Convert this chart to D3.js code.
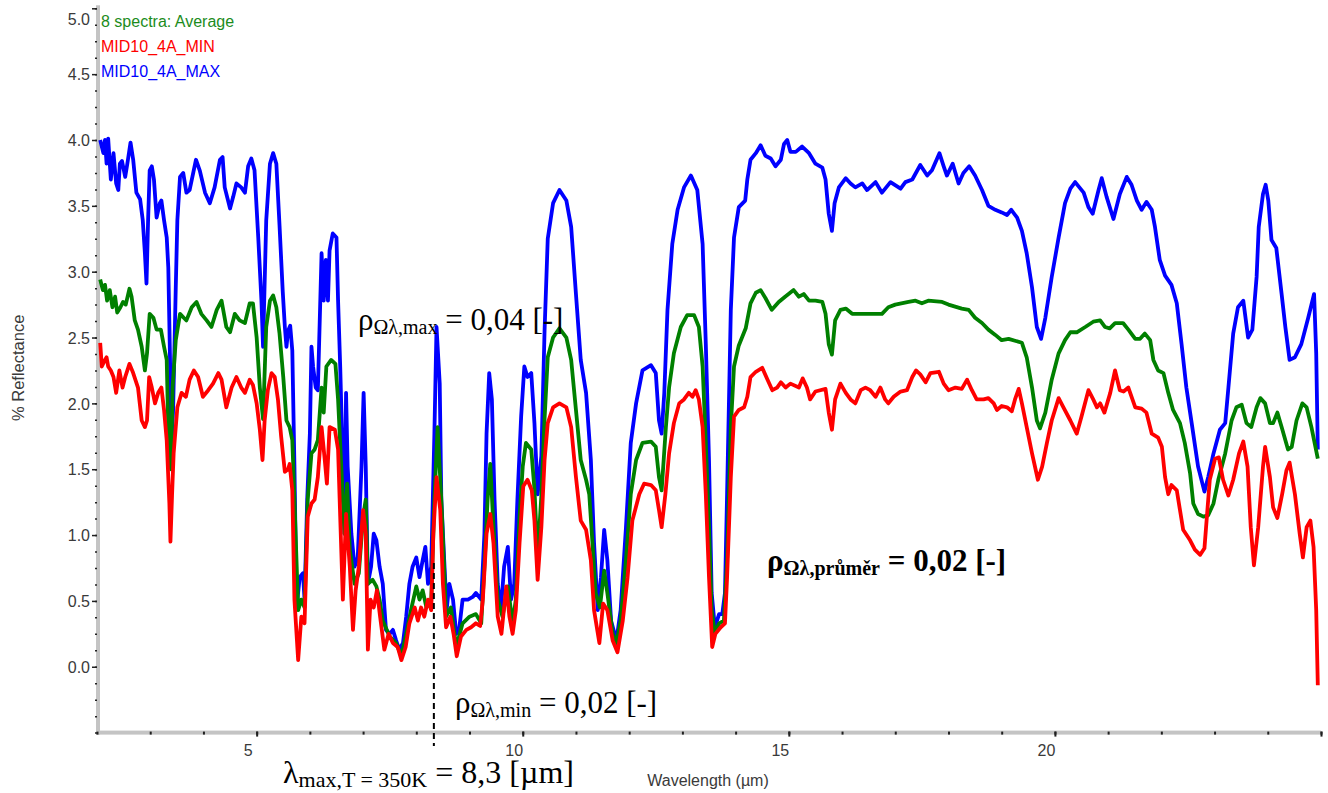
<!DOCTYPE html>
<html><head><meta charset="utf-8">
<script src="https://cdn.jsdelivr.net/npm/d3@7"></script>
<style>
html,body{margin:0;padding:0;background:#fff;}
svg{display:block;}
</style></head>
<body>
<svg id="chart" width="1328" height="793"></svg>
<script>
// ---- data (wavelength µm, % reflectance) ----
const seriesNames = ["8 spectra: Average", "MID10_4A_MIN", "MID10_4A_MAX"];
const seriesColors = ["#008000", "#ff0000", "#0000ff"];
const yTickLabels = [0.0,0.5,1.0,1.5,2.0,2.5,3.0,3.5,4.0,4.5,5.0];
const xTickLabels = [5,10,15,20];
const lambdaMarker = 8.33;

const maxSeries = [
[2.06,4.00],[2.12,3.90],[2.15,4.00],[2.18,3.82],[2.21,4.01],[2.26,3.70],[2.31,3.90],[2.36,3.67],[2.40,3.62],[2.43,3.82],
[2.47,3.84],[2.53,3.72],[2.57,3.82],[2.63,3.98],[2.68,3.85],[2.74,3.60],[2.81,3.55],[2.86,3.39],[2.90,3.14],[2.93,2.91],
[2.96,3.39],[2.99,3.77],[3.03,3.80],[3.07,3.70],[3.12,3.41],[3.18,3.52],[3.21,3.54],[3.26,3.39],[3.31,3.26],[3.34,3.03],
[3.37,2.38],[3.40,1.67],[3.43,1.95],[3.48,2.88],[3.51,3.39],[3.56,3.72],[3.62,3.75],[3.68,3.60],[3.74,3.62],[3.86,3.85],
[3.93,3.77],[4.03,3.60],[4.12,3.52],[4.21,3.64],[4.31,3.85],[4.36,3.87],[4.40,3.64],[4.50,3.48],[4.56,3.57],[4.62,3.67],
[4.71,3.64],[4.78,3.60],[4.84,3.80],[4.90,3.86],[4.96,3.77],[5.03,3.26],[5.09,2.78],[5.12,2.43],[5.18,3.39],[5.25,3.82],
[5.31,3.90],[5.37,3.82],[5.43,3.35],[5.49,2.85],[5.53,2.58],[5.56,2.43],[5.59,2.55],[5.63,2.59],[5.67,2.40],[5.71,1.52],
[5.75,0.45],[5.81,0.68],[5.87,0.71],[5.90,0.51],[5.95,1.27],[6.00,1.77],[6.03,2.43],[6.06,2.28],[6.11,2.12],[6.15,2.10],
[6.22,3.14],[6.26,2.78],[6.30,3.09],[6.34,2.78],[6.37,3.16],[6.43,3.29],[6.50,3.26],[6.53,2.78],[6.57,2.28],[6.62,1.52],
[6.65,1.01],[6.68,2.08],[6.71,1.52],[6.78,1.01],[6.84,0.76],[6.90,0.83],[6.97,1.52],[7.01,2.08],[7.05,1.52],[7.09,0.63],
[7.15,0.76],[7.20,1.01],[7.25,0.96],[7.31,0.76],[7.37,0.63],[7.43,0.28],[7.50,0.25],[7.56,0.28],[7.62,0.20],[7.68,0.13],
[7.75,0.18],[7.81,0.38],[7.87,0.63],[7.93,0.76],[8.00,0.83],[8.06,0.68],[8.12,0.81],[8.17,0.91],[8.22,0.63],[8.28,0.76],
[8.34,1.77],[8.38,2.58],[8.44,2.15],[8.47,1.27],[8.53,0.76],[8.57,0.43],[8.62,0.63],[8.69,0.51],[8.75,0.25],[8.81,0.30],
[8.87,0.51],[8.97,0.51],[9.06,0.53],[9.12,0.56],[9.22,0.51],[9.28,1.01],[9.32,1.77],[9.37,2.23],[9.42,2.03],[9.47,1.27],
[9.53,0.63],[9.59,0.43],[9.65,0.76],[9.72,0.91],[9.78,0.51],[9.84,0.63],[9.90,1.27],[9.97,1.90],[10.03,2.28],[10.09,2.20],
[10.16,2.23],[10.22,1.85],[10.28,1.31],[10.35,1.60],[10.41,2.55],[10.47,3.25],[10.57,3.52],[10.69,3.62],[10.82,3.54],[10.91,3.34],
[11.00,2.83],[11.09,2.33],[11.19,2.08],[11.28,1.57],[11.34,0.94],[11.41,0.43],[11.47,0.68],[11.53,1.04],[11.59,0.81],[11.66,0.35],
[11.76,0.20],[11.84,0.43],[11.94,1.06],[12.03,1.70],[12.13,2.00],[12.25,2.25],[12.41,2.29],[12.50,2.23],[12.56,1.87],[12.61,1.77],
[12.66,2.08],[12.72,2.71],[12.81,3.21],[12.91,3.47],[13.03,3.64],[13.16,3.73],[13.28,3.62],[13.38,3.21],[13.44,2.45],[13.50,1.57],
[13.55,0.56],[13.61,0.30],[13.69,0.40],[13.75,0.40],[13.80,0.56],[13.84,1.31],[13.91,2.71],[13.97,3.26],[14.06,3.49],[14.18,3.54],
[14.22,3.70],[14.28,3.85],[14.38,3.90],[14.47,3.96],[14.56,3.88],[14.66,3.86],[14.75,3.80],[14.85,3.85],[14.91,3.97],[14.97,4.00],
[15.03,3.91],[15.13,3.91],[15.25,3.95],[15.38,3.90],[15.50,3.82],[15.63,3.79],[15.69,3.70],[15.75,3.44],[15.81,3.31],[15.86,3.52],
[15.94,3.64],[16.07,3.71],[16.16,3.67],[16.25,3.64],[16.38,3.67],[16.47,3.62],[16.63,3.68],[16.75,3.60],[16.91,3.68],[17.10,3.63],
[17.19,3.68],[17.32,3.70],[17.47,3.81],[17.60,3.73],[17.69,3.77],[17.83,3.90],[17.91,3.80],[17.97,3.73],[18.08,3.82],[18.19,3.67],
[18.28,3.75],[18.39,3.80],[18.50,3.73],[18.63,3.62],[18.75,3.50],[18.88,3.47],[19.00,3.45],[19.10,3.43],[19.18,3.47],[19.29,3.41],
[19.38,3.31],[19.47,3.14],[19.57,2.88],[19.66,2.58],[19.74,2.49],[19.82,2.65],[19.94,2.96],[20.07,3.26],[20.19,3.52],[20.29,3.63],
[20.38,3.68],[20.54,3.60],[20.63,3.49],[20.71,3.44],[20.82,3.62],[20.88,3.71],[20.97,3.57],[21.10,3.40],[21.22,3.59],[21.35,3.72],
[21.44,3.66],[21.54,3.54],[21.63,3.47],[21.72,3.53],[21.82,3.47],[21.88,3.34],[21.97,3.09],[22.07,2.97],[22.19,2.90],[22.29,2.76],
[22.38,2.45],[22.47,2.12],[22.57,1.85],[22.69,1.52],[22.81,1.33],[22.88,1.44],[22.98,1.62],[23.10,1.80],[23.20,1.85],[23.26,2.12],
[23.35,2.53],[23.44,2.73],[23.54,2.78],[23.63,2.50],[23.71,2.56],[23.79,2.96],[23.83,3.34],[23.91,3.59],[23.96,3.66],[24.01,3.54],
[24.07,3.24],[24.16,3.18],[24.26,2.83],[24.33,2.58],[24.41,2.33],[24.51,2.35],[24.63,2.45],[24.76,2.65],[24.87,2.83],[24.91,2.38],
[24.94,1.65]
];

const avgSeries = [
[2.06,2.94],[2.11,2.86],[2.15,2.90],[2.19,2.78],[2.24,2.86],[2.29,2.73],[2.34,2.81],[2.38,2.69],[2.44,2.73],[2.49,2.77],
[2.54,2.75],[2.61,2.87],[2.65,2.81],[2.71,2.63],[2.77,2.56],[2.84,2.43],[2.90,2.25],[2.94,2.38],[2.99,2.68],[3.06,2.65],
[3.12,2.56],[3.20,2.56],[3.26,2.43],[3.31,2.33],[3.35,1.62],[3.39,1.50],[3.42,2.12],[3.48,2.48],[3.56,2.68],[3.63,2.65],
[3.68,2.63],[3.78,2.73],[3.87,2.77],[3.96,2.68],[4.06,2.63],[4.15,2.58],[4.25,2.71],[4.34,2.78],[4.43,2.58],[4.50,2.54],
[4.59,2.68],[4.68,2.63],[4.78,2.61],[4.87,2.76],[4.93,2.76],[5.00,2.50],[5.06,2.12],[5.12,1.88],[5.18,2.58],[5.25,2.78],
[5.31,2.82],[5.37,2.73],[5.43,2.53],[5.50,2.20],[5.56,1.87],[5.62,1.82],[5.67,1.72],[5.71,1.27],[5.78,0.43],[5.84,0.51],
[5.90,0.45],[5.96,1.27],[6.03,1.62],[6.09,1.65],[6.15,1.72],[6.22,2.12],[6.26,1.93],[6.31,2.28],[6.40,2.33],[6.48,2.30],
[6.53,2.03],[6.59,1.52],[6.65,1.01],[6.70,1.39],[6.75,0.89],[6.84,0.63],[6.92,0.71],[7.00,1.14],[7.05,1.27],[7.09,0.63],
[7.18,0.66],[7.25,0.61],[7.31,0.51],[7.37,0.35],[7.50,0.23],[7.62,0.18],[7.72,0.08],[7.81,0.25],[7.90,0.43],[8.00,0.61],
[8.06,0.51],[8.12,0.58],[8.19,0.45],[8.28,0.50],[8.34,1.27],[8.40,1.82],[8.47,1.27],[8.56,0.38],[8.65,0.45],[8.75,0.15],
[8.87,0.33],[9.00,0.38],[9.12,0.40],[9.22,0.33],[9.28,0.76],[9.34,1.27],[9.39,1.54],[9.44,1.14],[9.53,0.51],[9.62,0.38],
[9.72,0.61],[9.81,0.33],[9.87,0.51],[9.94,1.14],[10.00,1.52],[10.06,1.70],[10.16,1.65],[10.22,1.35],[10.28,0.83],[10.35,1.30],
[10.41,1.88],[10.47,2.35],[10.57,2.50],[10.69,2.57],[10.82,2.50],[10.91,2.33],[11.00,1.95],[11.09,1.57],[11.19,1.42],[11.25,1.31],
[11.31,0.94],[11.37,0.56],[11.45,0.45],[11.53,0.73],[11.59,0.56],[11.69,0.25],[11.76,0.18],[11.84,0.35],[11.94,0.81],[12.03,1.31],
[12.13,1.57],[12.25,1.70],[12.41,1.71],[12.50,1.67],[12.56,1.44],[12.61,1.34],[12.69,1.82],[12.75,2.12],[12.84,2.38],[12.97,2.58],
[13.09,2.67],[13.22,2.67],[13.31,2.58],[13.38,2.28],[13.44,1.70],[13.50,1.06],[13.55,0.43],[13.61,0.25],[13.69,0.33],[13.78,0.35],
[13.84,0.81],[13.91,1.82],[13.97,2.28],[14.06,2.44],[14.19,2.57],[14.28,2.76],[14.38,2.84],[14.47,2.86],[14.56,2.80],[14.68,2.71],
[14.81,2.77],[14.93,2.81],[15.09,2.86],[15.19,2.81],[15.28,2.83],[15.38,2.78],[15.50,2.78],[15.63,2.77],[15.69,2.68],[15.75,2.45],
[15.81,2.37],[15.87,2.63],[15.97,2.71],[16.07,2.72],[16.19,2.68],[16.44,2.68],[16.75,2.68],[16.87,2.73],[17.00,2.75],[17.25,2.77],
[17.38,2.78],[17.50,2.76],[17.62,2.78],[17.88,2.77],[18.00,2.75],[18.25,2.72],[18.38,2.71],[18.50,2.65],[18.63,2.61],[18.75,2.56],
[18.88,2.52],[19.00,2.48],[19.13,2.49],[19.38,2.46],[19.47,2.35],[19.57,2.12],[19.66,1.87],[19.72,1.81],[19.82,1.93],[19.94,2.18],
[20.07,2.38],[20.19,2.48],[20.29,2.54],[20.41,2.54],[20.57,2.58],[20.72,2.62],[20.85,2.63],[20.94,2.58],[21.03,2.57],[21.13,2.61],
[21.28,2.61],[21.38,2.56],[21.51,2.49],[21.60,2.49],[21.69,2.53],[21.79,2.48],[21.85,2.33],[21.94,2.25],[22.04,2.23],[22.13,2.08],
[22.22,1.95],[22.35,1.85],[22.44,1.70],[22.54,1.47],[22.60,1.24],[22.69,1.16],[22.79,1.14],[22.88,1.15],[22.98,1.24],[23.07,1.42],
[23.20,1.62],[23.32,1.87],[23.41,1.97],[23.51,1.99],[23.60,1.85],[23.69,1.82],[23.79,1.97],[23.86,2.04],[23.95,2.00],[24.04,1.85],
[24.10,1.85],[24.18,1.93],[24.26,1.82],[24.38,1.65],[24.45,1.67],[24.54,1.87],[24.65,2.00],[24.73,1.97],[24.82,1.82],[24.94,1.58]
];

const minSeries = [
[2.06,2.46],[2.09,2.28],[2.15,2.33],[2.18,2.35],[2.21,2.28],[2.26,2.25],[2.31,2.20],[2.36,2.08],[2.42,2.25],[2.48,2.12],
[2.53,2.20],[2.61,2.30],[2.68,2.23],[2.77,2.12],[2.84,1.87],[2.90,1.82],[2.94,1.87],[2.98,2.20],[3.03,2.12],[3.09,2.00],
[3.15,2.08],[3.21,2.12],[3.26,1.95],[3.31,1.72],[3.36,1.24],[3.38,0.95],[3.41,1.30],[3.44,1.62],[3.51,1.97],[3.59,2.08],
[3.67,2.05],[3.74,2.18],[3.82,2.25],[3.90,2.20],[3.99,2.05],[4.09,2.10],[4.18,2.15],[4.28,2.23],[4.34,2.18],[4.43,1.97],
[4.53,2.12],[4.62,2.20],[4.71,2.12],[4.78,2.08],[4.87,2.18],[4.93,2.14],[5.00,2.00],[5.06,1.80],[5.11,1.57],[5.15,1.87],
[5.21,2.10],[5.28,2.23],[5.34,2.20],[5.40,2.03],[5.46,1.75],[5.53,1.48],[5.59,1.50],[5.62,1.54],[5.67,1.34],[5.71,0.51],
[5.78,0.05],[5.84,0.38],[5.90,0.33],[5.96,1.14],[6.03,1.24],[6.09,1.27],[6.15,1.44],[6.22,1.82],[6.28,1.57],[6.32,1.39],
[6.37,1.82],[6.47,1.80],[6.53,1.65],[6.57,1.14],[6.62,0.51],[6.68,1.16],[6.75,0.76],[6.81,0.28],[6.86,0.58],[6.92,0.76],
[7.00,1.19],[7.05,1.01],[7.09,0.13],[7.14,0.51],[7.20,0.45],[7.26,0.58],[7.32,0.38],[7.40,0.13],[7.48,0.25],[7.56,0.18],
[7.65,0.15],[7.72,0.05],[7.80,0.15],[7.87,0.33],[7.97,0.45],[8.03,0.35],[8.09,0.45],[8.15,0.38],[8.22,0.51],[8.28,0.43],
[8.32,1.01],[8.38,1.44],[8.45,1.19],[8.50,0.63],[8.56,0.30],[8.64,0.38],[8.70,0.25],[8.76,0.08],[8.84,0.23],[8.94,0.28],
[9.03,0.30],[9.12,0.33],[9.20,0.31],[9.25,0.51],[9.32,1.01],[9.39,1.16],[9.45,0.94],[9.53,0.38],[9.60,0.25],[9.69,0.61],
[9.75,0.38],[9.81,0.25],[9.87,0.43],[9.94,0.94],[10.01,1.37],[10.09,1.42],[10.17,1.34],[10.22,1.11],[10.28,0.66],[10.35,1.06],
[10.41,1.57],[10.47,1.85],[10.57,1.97],[10.69,2.00],[10.82,1.97],[10.91,1.82],[11.00,1.44],[11.09,1.11],[11.19,1.04],[11.28,0.81],
[11.34,0.43],[11.44,0.18],[11.51,0.48],[11.59,0.43],[11.69,0.20],[11.78,0.11],[11.88,0.35],[11.97,0.68],[12.06,1.11],[12.19,1.31],
[12.28,1.39],[12.41,1.38],[12.50,1.34],[12.56,1.19],[12.61,1.06],[12.68,1.31],[12.75,1.62],[12.84,1.85],[12.94,2.00],[13.03,2.03],
[13.12,2.08],[13.19,2.05],[13.25,2.10],[13.31,2.03],[13.38,1.82],[13.44,1.31],[13.50,0.68],[13.56,0.15],[13.62,0.25],[13.72,0.30],
[13.80,0.33],[13.84,0.68],[13.91,1.44],[13.97,1.90],[14.06,1.95],[14.16,1.97],[14.22,2.05],[14.28,2.20],[14.38,2.24],[14.50,2.27],
[14.60,2.18],[14.69,2.10],[14.78,2.12],[14.85,2.16],[14.94,2.12],[15.03,2.15],[15.19,2.12],[15.26,2.19],[15.34,2.12],[15.40,2.03],
[15.50,2.09],[15.69,2.11],[15.75,1.93],[15.81,1.80],[15.87,2.03],[15.97,2.15],[16.07,2.08],[16.16,2.03],[16.25,2.00],[16.35,2.10],
[16.44,2.12],[16.53,2.10],[16.63,2.05],[16.72,2.12],[16.81,2.03],[16.87,2.00],[16.97,2.05],[17.10,2.09],[17.22,2.10],[17.32,2.20],
[17.39,2.25],[17.47,2.22],[17.57,2.16],[17.66,2.23],[17.82,2.24],[17.91,2.15],[18.00,2.10],[18.13,2.12],[18.25,2.11],[18.35,2.18],
[18.44,2.10],[18.53,2.03],[18.66,2.03],[18.75,2.04],[18.85,2.00],[18.91,1.95],[19.00,1.98],[19.10,1.97],[19.19,1.94],[19.25,2.03],
[19.32,2.11],[19.38,2.00],[19.47,1.82],[19.57,1.62],[19.68,1.42],[19.76,1.52],[19.85,1.70],[19.94,1.87],[20.07,2.04],[20.16,1.97],
[20.29,1.87],[20.41,1.77],[20.50,1.90],[20.63,2.10],[20.72,2.03],[20.79,1.97],[20.85,2.00],[20.93,1.93],[21.04,2.08],[21.13,2.25],
[21.22,2.10],[21.29,2.09],[21.38,2.12],[21.51,1.97],[21.63,1.96],[21.72,1.93],[21.82,1.77],[21.94,1.74],[22.01,1.67],[22.07,1.44],
[22.13,1.31],[22.19,1.38],[22.29,1.34],[22.35,1.19],[22.41,1.04],[22.54,0.96],[22.63,0.89],[22.73,0.85],[22.81,0.90],[22.85,1.11],
[22.91,1.42],[23.01,1.58],[23.08,1.59],[23.16,1.42],[23.26,1.30],[23.35,1.42],[23.46,1.62],[23.54,1.71],[23.62,1.52],[23.68,1.06],
[23.74,0.77],[23.82,1.06],[23.91,1.52],[23.95,1.67],[24.04,1.44],[24.10,1.21],[24.18,1.13],[24.27,1.31],[24.35,1.49],[24.41,1.55],
[24.51,1.31],[24.60,1.01],[24.66,0.83],[24.73,1.06],[24.80,1.11],[24.86,0.91],[24.91,0.43],[24.94,-0.14]
];

// ---- scales ----
const svg = d3.select("#chart");
const x = d3.scaleLinear().domain([2, 25]).range([97, 1321]);
const y = d3.scaleLinear().domain([-0.5, 5.0]).range([732.6, 8.3]);

// axis bars (gray)
svg.append("rect").attr("x", x(2) - 1).attr("y", y(5.0) - 3).attr("width", 4)
   .attr("height", y(-0.5) - y(5.0) + 5).attr("fill", "#c4c4c4");
svg.append("rect").attr("x", x(2) - 1).attr("y", y(-0.5) - 2).attr("width", x(25) - x(2) + 1)
   .attr("height", 4).attr("fill", "#c4c4c4");

// y ticks
const yMinor = d3.range(-0.5, 5.0001, 0.125);
const yAxisMinor = d3.axisLeft(y).tickValues(yMinor).tickSize(2).tickFormat("");
const gyMinor = svg.append("g").attr("transform", `translate(${x(2)},0)`).call(yAxisMinor);
const yAxisMajor = d3.axisLeft(y).tickValues(yTickLabels).tickSize(5).tickPadding(3)
   .tickFormat(d3.format(".1f"));
const gyMajor = svg.append("g").attr("transform", `translate(${x(2)},0)`).call(yAxisMajor);
[gyMinor, gyMajor].forEach(g => {
  g.select(".domain").remove();
  g.selectAll("line").attr("stroke", "#202020").attr("stroke-width", 1.5);
});
gyMajor.selectAll("text")
  .attr("fill", "#3a3a3a").attr("font-family", "'Liberation Sans', Arial, sans-serif").attr("font-size", 16)
  .attr("x", -7)
  .attr("dy", "0.36em")
  .attr("transform", d => d === 5.0 ? "translate(0,10)" : null);

// x ticks
const xMinor = d3.range(2, 25.0001, 1);
const xAxisMinor = d3.axisBottom(x).tickValues(xMinor).tickSize(2).tickFormat("");
const gxMinor = svg.append("g").attr("transform", `translate(0,${y(-0.5)})`).call(xAxisMinor);
const xAxisMajor = d3.axisBottom(x).tickValues(xTickLabels.concat([25])).tickSize(4).tickPadding(8)
   .tickFormat(d => xTickLabels.includes(d) ? d : "");
const gxMajor = svg.append("g").attr("transform", `translate(0,${y(-0.5)})`).call(xAxisMajor);
[gxMinor, gxMajor].forEach(g => {
  g.select(".domain").remove();
  g.selectAll("line").attr("stroke", "#202020").attr("stroke-width", 2).attr("y1", -1);
});
gxMajor.selectAll("text")
  .attr("fill", "#3a3a3a").attr("font-family", "'Liberation Sans', Arial, sans-serif").attr("font-size", 16)
  .attr("dx", -9);

// axis titles
svg.append("text").attr("transform", `translate(24,${y(2.27)}) rotate(-90)`)
  .attr("text-anchor", "middle").attr("fill", "#3a3a3a")
  .attr("font-family", "'Liberation Sans', Arial, sans-serif").attr("font-size", 16.5)
  .text("% Reflectance");
svg.append("text").attr("x", 708).attr("y", 786).attr("text-anchor", "middle")
  .attr("fill", "#3a3a3a").attr("font-family", "'Liberation Sans', Arial, sans-serif").attr("font-size", 16)
  .text("Wavelength (µm)");

// lines
const line = d3.line().x(d => x(d[0])).y(d => y(d[1]));
const drawOrder = [[maxSeries, seriesColors[2]], [avgSeries, seriesColors[0]], [minSeries, seriesColors[1]]];
drawOrder.forEach(([data, col]) => {
  svg.append("path").datum(data).attr("d", line).attr("fill", "none")
    .attr("stroke", col).attr("stroke-width", 3.8).attr("stroke-linejoin", "round");
});

// legend
const legend = svg.append("g").attr("font-family", "'Liberation Sans', Arial, sans-serif").attr("font-size", 16);
seriesNames.forEach((n, i) => {
  legend.append("text").attr("x", 101).attr("y", 27 + i * 25)
    .attr("fill", i === 0 ? "#1c8c1c" : seriesColors[i]).text(n);
});

// dashed marker at λmax
svg.append("line").attr("x1", x(lambdaMarker)).attr("x2", x(lambdaMarker))
  .attr("y1", 563).attr("y2", 746).attr("stroke", "#000").attr("stroke-width", 2)
  .attr("stroke-dasharray", "6,4");

// annotations (Times-like)
const serif = "'Liberation Serif', 'Times New Roman', serif";
function rhoLabel(xp, yp, sub, rest, bold) {
  const t = svg.append("text").attr("x", xp).attr("y", yp).attr("font-family", serif)
    .attr("font-size", 31).attr("fill", "#000").attr("font-weight", bold ? "bold" : "normal");
  t.append("tspan").text("ρ");
  t.append("tspan").attr("font-size", 20).attr("dy", 4).text(sub);
  t.append("tspan").attr("dy", -4).text(rest);
}
rhoLabel(358, 330, "Ωλ,max", " = 0,04 [-]", false);
rhoLabel(455, 713, "Ωλ,min", " = 0,02 [-]", false);
rhoLabel(767, 571, "Ωλ,průměr", " = 0,02 [-]", true);

const lam = svg.append("text").attr("x", 283).attr("y", 783).attr("font-family", serif)
  .attr("font-size", 32).attr("fill", "#000");
lam.append("tspan").text("λ");
lam.append("tspan").attr("font-size", 22).attr("dy", 4).text("max,T = 350K");
lam.append("tspan").attr("dy", -4).text(" = 8,3 [µm]");
</script>
</body></html>
